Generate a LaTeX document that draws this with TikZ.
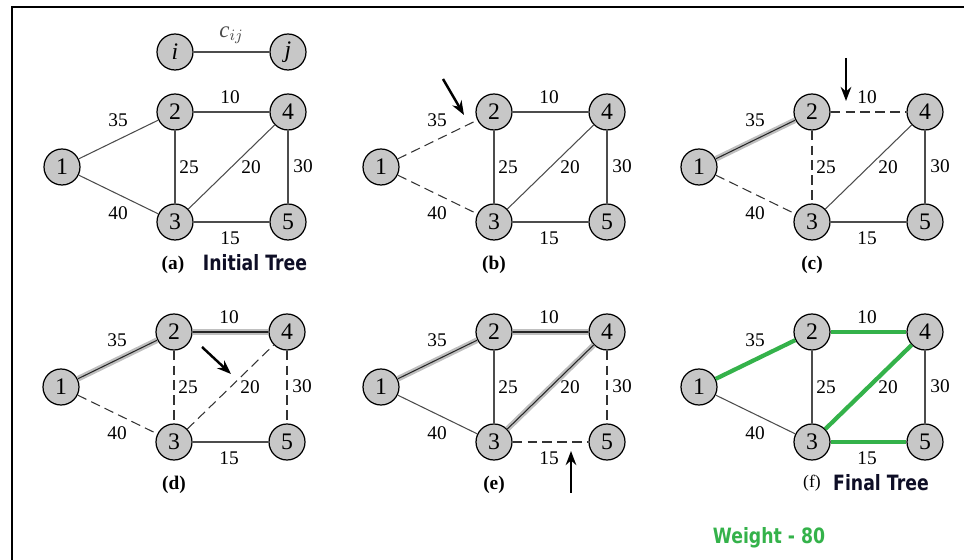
\documentclass[tikz,border=0pt]{standalone}
\usepackage{fontspec}
\setmainfont{Liberation Serif}
\newfontfamily\headfont[FakeStretch=0.82]{DejaVu Sans}
\usetikzlibrary{arrows.meta}
\definecolor{treegreen}{RGB}{52,178,74}
\definecolor{headnavy}{RGB}{14,14,38}

\tikzset{
  vtx/.style={circle, draw=black, line width=0.7pt, fill=black!22, minimum size=0.72cm, inner sep=0pt, font=\fontsize{13.5}{13.5}\selectfont},
  wt/.style={inner sep=1pt, font=\fontsize{11}{11}\selectfont},
  edge/.style={black!70, line width=0.6pt},
  dashedge/.style={black!80, line width=0.6pt, dash pattern=on 5.5pt off 3pt},
  treeedge/.style={black!85, line width=0.6pt, preaction={draw, black!25, line width=3.2pt}},
  greenedge/.style={treegreen, line width=2.4pt},
  pointer/.style={line width=1.4pt, -{Stealth[length=8pt,width=6pt]}},
  sublbl/.style={anchor=base, font=\fontsize{11}{11}\selectfont\bfseries},
  headtxt/.style={anchor=base, font=\headfont\fontsize{12}{12}\selectfont\bfseries},
}

\begin{document}
\begin{tikzpicture}[x=0.02cm, y=-0.02cm]
\useasboundingbox (0,0) rectangle (964,560);
\draw[line width=1.2pt] (964,7) -- (12,7) -- (12,560);

% legend edge
\node[vtx] (vi) at (175,52) {\textit{i}};
\node[vtx] (vj) at (288,52) {\textit{j}};
\draw[edge] (vi) -- node[wt, shift={(0,-17)}, font=\fontsize{13}{13}\selectfont] (cij) {\textit{c}$_{ij}$} (vj);

% the six copies of the graph
\foreach \p/\ox/\oy in {a/62/167, b/381/167, c/699/167, d/61/387, e/381/387, f/699/387}{
  \begin{scope}[shift={(\ox,\oy)}]
    \node[vtx] (\p1) at (0,0) {1};
    \node[vtx] (\p2) at (113,-55) {2};
    \node[vtx] (\p3) at (113,55) {3};
    \node[vtx] (\p4) at (226,-55) {4};
    \node[vtx] (\p5) at (226,55) {5};
    \node[wt] (\p w35) at (56,-47) {35};
    \node[wt] (\p w10) at (168,-70) {10};
    \node[wt] (\p w25) at (127,0) {25};
    \node[wt] (\p w20) at (189,0) {20};
    \node[wt] (\p w30) at (241,-1) {30};
    \node[wt] (\p w40) at (56,46) {40};
    \node[wt] (\p w15) at (168,71) {15};
  \end{scope}
}

% (a)
\foreach \u/\v in {1/2,1/3,2/3,2/4,3/4,3/5,4/5} \draw[edge] (a\u) -- (a\v);
% (b)
\foreach \u/\v in {1/2,1/3} \draw[dashedge] (b\u) -- (b\v);
\foreach \u/\v in {2/3,2/4,3/4,3/5,4/5} \draw[edge] (b\u) -- (b\v);
% (c)
\draw[treeedge] (c1) -- (c2);
\foreach \u/\v in {1/3,2/3,2/4} \draw[dashedge] (c\u) -- (c\v);
\foreach \u/\v in {3/4,3/5,4/5} \draw[edge] (c\u) -- (c\v);
% (d)
\foreach \u/\v in {1/2,2/4} \draw[treeedge] (d\u) -- (d\v);
\foreach \u/\v in {1/3,2/3,3/4,4/5} \draw[dashedge] (d\u) -- (d\v);
\draw[edge] (d3) -- (d5);
% (e)
\foreach \u/\v in {1/2,2/4,3/4} \draw[treeedge] (e\u) -- (e\v);
\foreach \u/\v in {1/3,2/3} \draw[edge] (e\u) -- (e\v);
\foreach \u/\v in {3/5,4/5} \draw[dashedge] (e\u) -- (e\v);
% (f)
\foreach \u/\v in {1/2,2/4,3/4,3/5} \draw[greenedge] (f\u) -- (f\v);
\foreach \u/\v in {1/3,2/3,4/5} \draw[edge] (f\u) -- (f\v);

% pointers
\coordinate (bptail) at (443,79);
\coordinate (bptip) at (464,115);
\draw[pointer] (bptail) -- (bptip);
\coordinate (cptail) at (846,58);
\coordinate (cptip) at (846,101);
\draw[pointer] (cptail) -- (cptip);
\coordinate (dptail) at (202,347);
\coordinate (dptip) at (231,374);
\draw[pointer] (dptail) -- (dptip);
\coordinate (eptail) at (571,493);
\coordinate (eptip) at (571,451);
\draw[pointer] (eptail) -- (eptip);

% captions
\node[sublbl] (acap) at (173,270) {(a)};
\node[headtxt, headnavy] (atitle) at (255,271) {Initial Tree};
\node[sublbl] (bcap) at (494,270) {(b)};
\node[sublbl] (ccap) at (812,270) {(c)};
\node[sublbl] (dcap) at (174,490) {(d)};
\node[sublbl] (ecap) at (494,490) {(e)};
\node[anchor=base, font=\fontsize{10}{10}\selectfont] (fcap) at (812,488) {(f)};
\node[headtxt, headnavy] (ftitle) at (881,491) {Final Tree};
\node[headtxt, treegreen] (weight) at (769,543) {Weight - 80};
\end{tikzpicture}
\end{document}
